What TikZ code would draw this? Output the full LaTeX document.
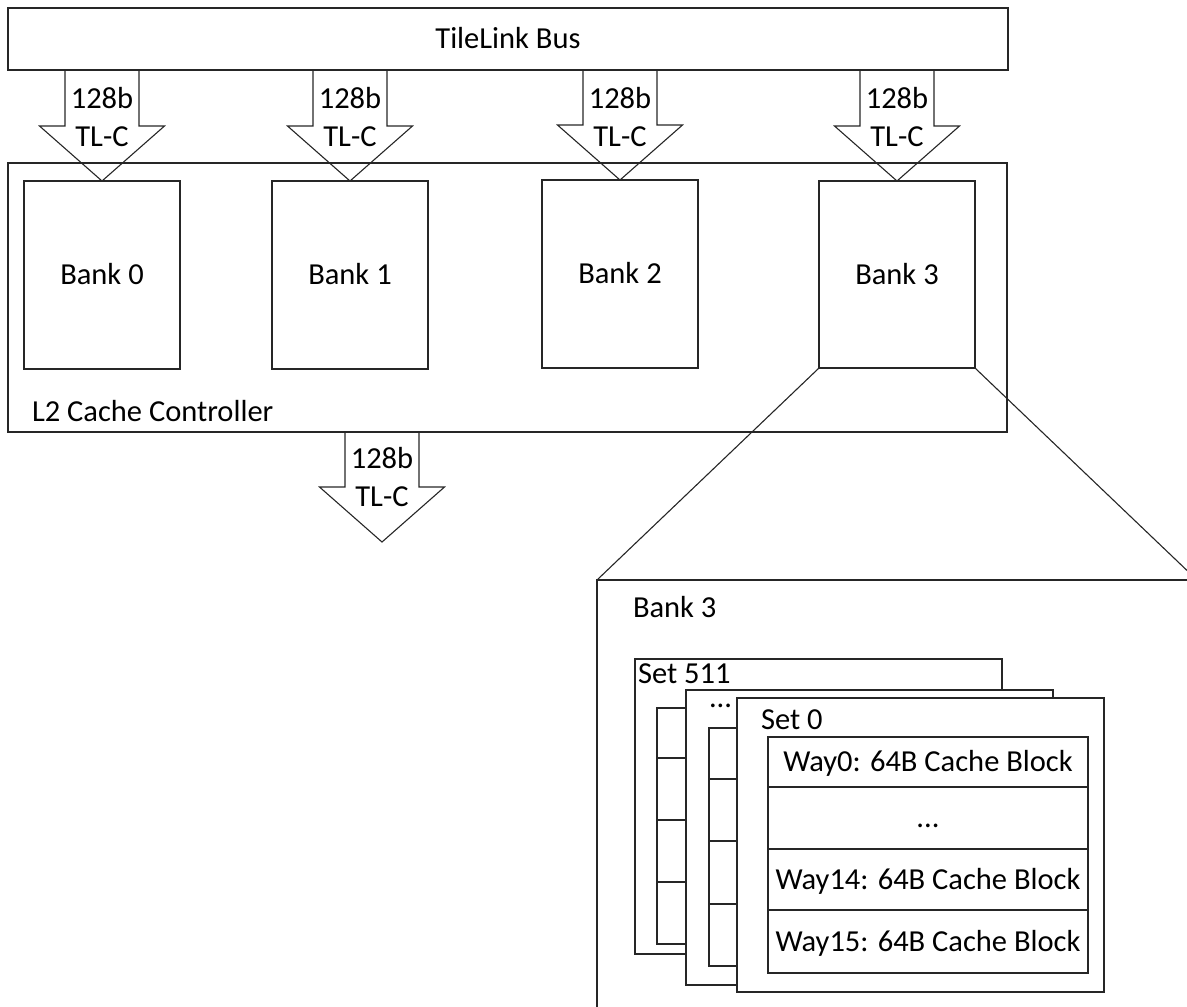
\documentclass[tikz,border=0pt]{standalone}
\usepackage{fontspec}
\setmainfont{Carlito}
\usetikzlibrary{calc}
\begin{document}
\begin{tikzpicture}[x=1pt,y=-1pt,
  every node/.style={inner sep=0pt, outer sep=0pt},
  ln/.style={draw=black!85, line width=1.1pt},
  blk/.style={ln, fill=white, anchor=north west},
  txt/.style={font=\fontsize{30.5}{36}\selectfont, text height=19.6pt, text depth=0pt}]
\useasboundingbox (0,0) rectangle (1187,1007);
\clip (0,0) rectangle (1187,1007);

% bus and controller
\node[blk, txt, minimum width=1000, minimum height=62] (bus) at (8,8) {TileLink Bus};
\node[blk, minimum width=999, minimum height=269] (ctl) at (8,163) {};
\node[txt, anchor=base west] (ctllbl) at (32,421) {L2 Cache Controller};

% banks
\node[blk, txt, minimum width=156, minimum height=188] (b0) at (24,181) {Bank 0};
\node[blk, txt, minimum width=156, minimum height=188] (b1) at (272,181) {Bank 1};
\node[blk, txt, minimum width=156, minimum height=188] (b2) at (542,180) {Bank 2};
\node[blk, txt, minimum width=156, minimum height=187] (b3) at (819,181) {Bank 3};

% block arrows bus -> banks
\foreach \b in {b0,b1,b2,b3} {
  \coordinate (\b top) at (\b.north |- bus.south);
  \draw[ln] ($(\b top)+(-37,0)$) -- ($(\b top)+(37,0)$) -- ($(\b.north)+(37,-55)$)
     -- ($(\b.north)+(62.5,-55)$) -- (\b.north) -- ($(\b.north)+(-62.5,-55)$)
     -- ($(\b.north)+(-37,-55)$) -- cycle;
  \node[txt, anchor=base] (\b w) at ($(\b top)+(0,38)$) {128b};
  \node[txt, anchor=base] (\b p) at ($(\b top)+(0,76)$) {TL-C};
}

% outgoing block arrow
\coordinate (out) at (382,542);
\coordinate (otop) at (out |- ctl.south);
\draw[ln] ($(otop)+(-37,0)$) -- ($(otop)+(37,0)$) -- ($(out)+(37,-55)$)
   -- ($(out)+(62.5,-55)$) -- (out) -- ($(out)+(-62.5,-55)$)
   -- ($(out)+(-37,-55)$) -- cycle;
\node[txt, anchor=base] (ow) at ($(otop)+(0,36)$) {128b};
\node[txt, anchor=base] (op) at ($(otop)+(0,74)$) {TL-C};

% zoomed bank 3
\node[blk, minimum width=600, minimum height=440] (zoom) at (597,580) {};
\draw[ln] (b3.south west) -- (zoom.north west);
\draw[ln] (b3.south east) -- (zoom.north east);
\node[txt, anchor=base west] (zoomlbl) at (633,617) {Bank 3};

% set 511
\node[blk, minimum width=367, minimum height=295] (s511) at (635,659) {};
\node[txt, anchor=base west] (s511lbl) at (638,683) {Set 511};
\foreach \y/\h [count=\i] in {708/50,758/62,820/62,882/62}
  \node[blk, minimum width=60, minimum height=\h] (c511r\i) at (657,\y) {};

% middle set
\node[blk, minimum width=367, minimum height=295] (smid) at (686,690) {};
\node[txt, anchor=base west] (smidlbl) at (709,707) {...};
\foreach \y/\h [count=\i] in {728/51,779/62,841/63,904/62}
  \node[blk, minimum width=60, minimum height=\h] (cmidr\i) at (709,\y) {};

% set 0
\node[blk, minimum width=367, minimum height=294] (s0) at (737,698) {};
\node[txt, anchor=base west] (s0lbl) at (761,729) {Set 0};
\node[blk, txt, minimum width=320, minimum height=50] (w0) at (768,737) {Way0: 64B Cache Block};
\node[blk, txt, minimum width=320, minimum height=62] (wd) at (768,787) {...};
\node[blk, txt, minimum width=320, minimum height=61] (w14) at (768,849) {Way14: 64B Cache Block};
\node[blk, txt, minimum width=320, minimum height=63] (w15) at (768,910) {Way15: 64B Cache Block};
\end{tikzpicture}
\end{document}
